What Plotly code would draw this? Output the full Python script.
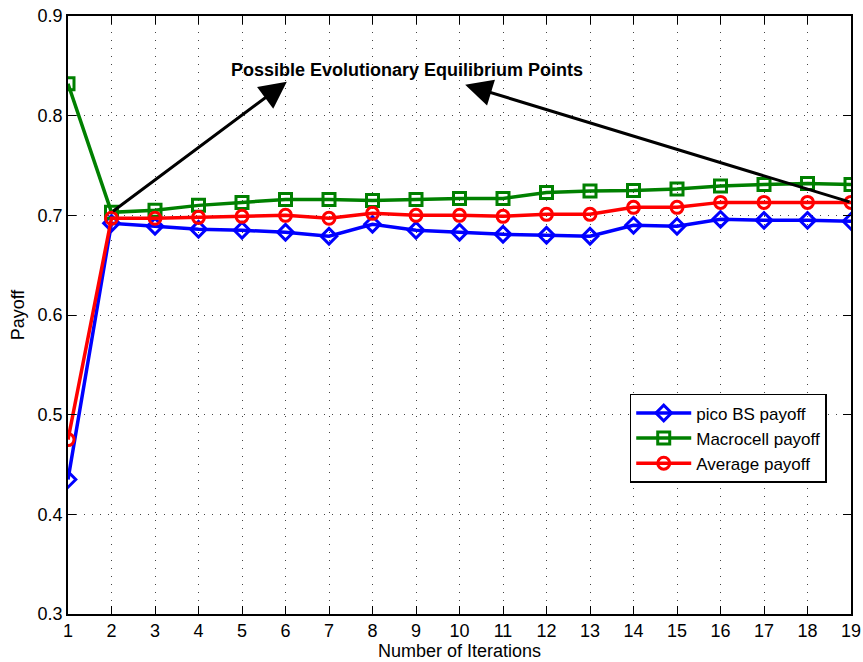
import plotly.graph_objects as go

iterations = list(range(1, 20))
pico = [0.435, 0.692, 0.689, 0.686, 0.685, 0.683, 0.679, 0.691, 0.685, 0.683,
        0.681, 0.680, 0.679, 0.690, 0.689, 0.696, 0.695, 0.695, 0.694]
macro = [0.832, 0.703, 0.705, 0.710, 0.713, 0.716, 0.716, 0.715, 0.716, 0.717,
         0.717, 0.723, 0.7245, 0.725, 0.7265, 0.7295, 0.731, 0.732, 0.731]
avg = [0.475, 0.697, 0.697, 0.698, 0.699, 0.700, 0.697, 0.702, 0.700, 0.700,
       0.699, 0.701, 0.701, 0.708, 0.708, 0.713, 0.713, 0.713, 0.713]

series = [
    ("pico BS payoff", pico, "#0000ff", "diamond-open"),
    ("Macrocell payoff", macro, "#008000", "square-open"),
    ("Average payoff", avg, "#ff0000", "circle-open"),
]

fig = go.Figure()
for name, vals, col, sym in series:
    fig.add_trace(go.Scatter(
        x=iterations, y=vals, name=name, mode="lines+markers",
        line=dict(color=col, width=3.5),
        marker=dict(symbol=sym, size=12, color=col, line=dict(color=col, width=3)),
    ))

font = "Liberation Sans, Arial, sans-serif"
axis_common = dict(
    showline=True, linecolor="black", linewidth=1.5, mirror="ticks",
    ticks="inside", ticklen=8, tickcolor="black", tickwidth=1,
    showgrid=True, gridcolor="#444444", griddash="1px,7px", gridwidth=1,
    zeroline=False, tickfont=dict(family=font, size=18, color="black"),
    automargin=False,
)
fig.update_xaxes(range=[1, 19], tickvals=iterations, **axis_common,
                 title=dict(text="Number of Iterations", font=dict(family=font, size=18, color="black"), standoff=2))
fig.update_yaxes(range=[0.3, 0.9], tickvals=[0.3, 0.4, 0.5, 0.6, 0.7, 0.8, 0.9],
                 tickformat=".1f", **axis_common,
                 title=dict(text="Payoff", font=dict(family=font, size=18, color="black"), standoff=8))

fig.add_annotation(x=8.79, y=0.846, xref="x", yref="y", text="<b>Possible Evolutionary Equilibrium Points</b>",
                   showarrow=False, font=dict(family=font, size=18, color="black"))
for (x0, y0, x1, y1) in [(2, 0.703, 6.03, 0.834), (19, 0.713, 10.13, 0.831)]:
    fig.add_annotation(x=x1, y=y1, ax=x0, ay=y0, xref="x", yref="y", axref="x", ayref="y",
                       text="", showarrow=True, arrowhead=2, arrowsize=1.8, arrowwidth=3,
                       arrowcolor="black")

fig.update_layout(
    width=863, height=662,
    margin=dict(l=68, r=12, t=16, b=48),
    plot_bgcolor="white", paper_bgcolor="white",
    font=dict(family=font, size=18, color="black"),
    legend=dict(x=0.969, y=0.368, xanchor="right", yanchor="top",
                bgcolor="white", bordercolor="black", borderwidth=1.5,
                font=dict(family=font, size=17, color="black"),
                tracegroupgap=0, itemwidth=55),
    showlegend=True,
)

fig.write_html("out.html")
